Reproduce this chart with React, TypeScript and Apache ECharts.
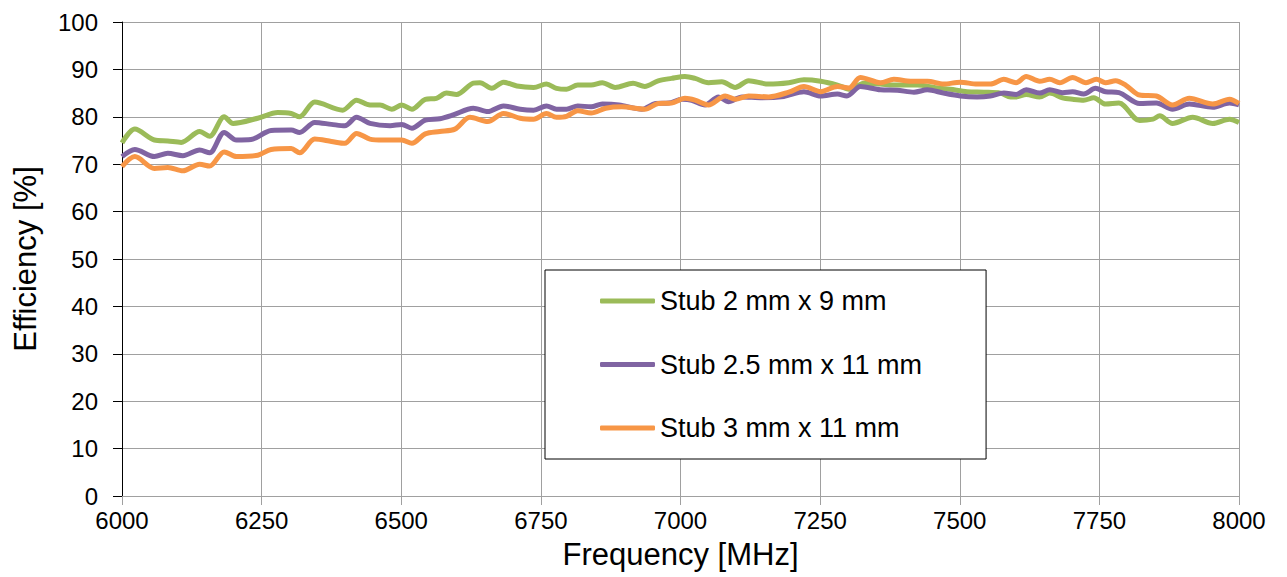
import React, { useEffect, useRef } from "react";
import * as echarts from "echarts";

const seriesNames = ["Stub 2 mm x 9 mm", "Stub 2.5 mm x 11 mm", "Stub 3 mm x 11 mm"];
const seriesColors = ["#9BBB59", "#8064A2", "#F79646"];

const xTicks = [6000, 6250, 6500, 6750, 7000, 7250, 7500, 7750, 8000];
const yTicks = [0, 10, 20, 30, 40, 50, 60, 70, 80, 90, 100];

// [frequency MHz, efficiency %]
const stub2x9: [number, number][] = [
  [6000, 74.5], [6023, 77.4], [6058, 75.1], [6082, 74.9], [6106, 74.6], [6139, 76.9], [6157, 75.9],
  [6183, 80.0], [6199, 78.6], [6243, 79.7], [6279, 80.9], [6303, 80.7], [6318, 80.0], [6345, 83.1],
  [6395, 81.4], [6420, 83.5], [6444, 82.5], [6462, 82.5], [6483, 81.6], [6501, 82.5], [6519, 81.6],
  [6543, 83.7], [6563, 83.9], [6581, 85.0], [6599, 84.7], [6629, 87.1], [6641, 87.2], [6662, 86.0],
  [6683, 87.3], [6707, 86.5], [6737, 86.2], [6760, 86.9], [6778, 86.0], [6796, 85.8], [6816, 86.7],
  [6840, 86.7], [6860, 87.2], [6883, 86.2], [6915, 87.1], [6936, 86.4], [6960, 87.6], [6984, 88.1],
  [7008, 88.5], [7026, 88.1], [7050, 87.2], [7074, 87.4], [7098, 86.2], [7122, 87.6], [7158, 86.9],
  [7194, 87.2], [7221, 87.8], [7251, 87.5], [7281, 86.7], [7304, 85.8], [7328, 87.1], [7358, 86.9],
  [7382, 86.7], [7424, 86.7], [7454, 86.2], [7483, 85.8], [7513, 85.3], [7543, 85.2], [7573, 85.0],
  [7591, 84.2], [7601, 84.2], [7619, 84.7], [7643, 84.2], [7661, 85.0], [7684, 84.0], [7702, 83.7],
  [7722, 83.5], [7740, 84.0], [7761, 82.7], [7785, 82.9], [7822, 79.2], [7846, 79.5], [7858, 80.2],
  [7881, 78.6], [7917, 79.9], [7953, 78.6], [7983, 79.5], [8000, 78.8],
];

const stub25x11: [number, number][] = [
  [6000, 71.6], [6023, 73.1], [6058, 71.6], [6082, 72.3], [6109, 71.8], [6139, 73.0], [6157, 72.4],
  [6183, 76.7], [6205, 75.1], [6231, 75.2], [6267, 77.1], [6303, 77.2], [6318, 76.7], [6345, 78.8],
  [6375, 78.4], [6399, 78.1], [6420, 79.9], [6444, 78.6], [6480, 78.1], [6501, 78.4], [6519, 77.6],
  [6543, 79.3], [6569, 79.6], [6593, 80.4], [6629, 81.8], [6655, 81.1], [6683, 82.3], [6713, 81.6],
  [6737, 81.4], [6760, 82.3], [6778, 81.6], [6796, 81.6], [6816, 82.3], [6840, 82.1], [6860, 82.7],
  [6890, 82.5], [6931, 81.6], [6955, 82.8], [6979, 82.9], [7003, 83.7], [7020, 83.5], [7044, 82.5],
  [7068, 84.2], [7086, 83.2], [7110, 84.2], [7146, 84.0], [7185, 84.3], [7221, 85.3], [7251, 84.4],
  [7281, 84.8], [7298, 84.4], [7322, 86.4], [7358, 85.7], [7388, 85.6], [7418, 85.2], [7442, 85.7],
  [7471, 85.0], [7501, 84.4], [7531, 84.2], [7555, 84.4], [7579, 85.0], [7601, 84.7], [7619, 85.7],
  [7643, 85.0], [7661, 85.7], [7684, 85.1], [7702, 85.3], [7722, 84.8], [7743, 86.0], [7761, 85.3],
  [7785, 85.1], [7822, 82.8], [7852, 82.9], [7881, 81.6], [7911, 82.7], [7953, 82.0], [7983, 82.9],
  [8000, 82.5],
];

const stub3x11: [number, number][] = [
  [6000, 69.5], [6023, 71.6], [6058, 69.1], [6082, 69.3], [6109, 68.6], [6139, 70.0], [6157, 69.6],
  [6183, 72.6], [6205, 71.6], [6243, 71.9], [6267, 73.1], [6303, 73.3], [6318, 72.4], [6345, 75.3],
  [6375, 74.8], [6399, 74.4], [6420, 76.5], [6444, 75.3], [6468, 75.1], [6501, 75.1], [6519, 74.4],
  [6543, 76.4], [6569, 76.9], [6596, 77.4], [6623, 79.9], [6655, 79.0], [6683, 80.7], [6713, 79.7],
  [6737, 79.5], [6760, 80.7], [6778, 79.9], [6796, 80.1], [6816, 81.3], [6840, 80.8], [6866, 81.8],
  [6895, 82.1], [6936, 81.6], [6960, 82.8], [6984, 82.9], [7008, 83.9], [7026, 83.5], [7050, 82.5],
  [7080, 84.4], [7098, 83.7], [7122, 84.4], [7158, 84.2], [7194, 85.2], [7221, 86.4], [7251, 85.3],
  [7281, 86.4], [7302, 86.1], [7322, 88.3], [7358, 87.2], [7382, 87.9], [7412, 87.5], [7442, 87.5],
  [7471, 86.9], [7501, 87.3], [7531, 86.9], [7555, 86.9], [7579, 87.9], [7601, 87.2], [7619, 88.5],
  [7643, 87.5], [7661, 87.9], [7679, 87.2], [7702, 88.3], [7726, 87.2], [7745, 87.9], [7761, 87.2],
  [7779, 87.6], [7797, 86.7], [7822, 84.6], [7852, 84.4], [7881, 82.5], [7911, 83.9], [7953, 82.7],
  [7983, 83.7], [8000, 82.8],
];

const seriesData = [stub2x9, stub25x11, stub3x11];

export default function App() {
  const ref = useRef<HTMLDivElement>(null);
  useEffect(() => {
    if (!ref.current) return;
    const chart = echarts.init(ref.current, null, { renderer: "svg" });
    const font = "Arial, 'Liberation Sans', sans-serif";
    chart.setOption({
      animation: false,
      backgroundColor: "#ffffff",
      grid: { left: 122, right: 48, top: 22, bottom: 81, containLabel: false },
      legend: {
        orient: "vertical",
        left: 545,
        top: 270,
        padding: [16, 64, 16, 55],
        borderColor: "#000000",
        borderWidth: 1,
        backgroundColor: "#ffffff",
        icon: "roundRect",
        itemWidth: 55,
        itemHeight: 5,
        itemGap: 33.5,
        data: seriesNames,
        textStyle: { fontFamily: font, fontSize: 27, color: "#000000", lineHeight: 30 },
      },
      xAxis: {
        type: "value",
        min: 6000,
        max: 8000,
        interval: 250,
        name: "Frequency [MHz]",
        nameLocation: "middle",
        nameGap: 43,
        nameTextStyle: { fontFamily: font, fontSize: 31, color: "#000000" },
        axisLine: { show: true, onZero: false, lineStyle: { color: "#A0A0A0", width: 1 } },
        axisTick: { show: true, length: 9, lineStyle: { color: "#A0A0A0" } },
        axisLabel: {
          fontFamily: font,
          fontSize: 24,
          color: "#000000",
          margin: 12,
          formatter: (v: number) => (xTicks.includes(v) ? String(v) : ""),
        },
        splitLine: { show: true, lineStyle: { color: "#A0A0A0", width: 1 } },
      },
      yAxis: {
        type: "value",
        min: 0,
        max: 100,
        interval: 10,
        name: "Efficiency [%]",
        nameLocation: "middle",
        nameGap: 81,
        nameRotate: 90,
        nameTextStyle: { fontFamily: font, fontSize: 31, color: "#000000" },
        axisLine: { show: true, lineStyle: { color: "#000000", width: 1 } },
        axisTick: { show: true, length: 9, lineStyle: { color: "#000000" } },
        axisLabel: {
          fontFamily: font,
          fontSize: 24,
          color: "#000000",
          margin: 24,
          formatter: (v: number) => (yTicks.includes(v) ? String(v) : ""),
        },
        splitLine: { show: true, lineStyle: { color: "#A0A0A0", width: 1 } },
      },
      series: seriesNames.map((name, i) => ({
        name,
        type: "line",
        data: seriesData[i],
        smooth: 0.3,
        showSymbol: false,
        symbol: "none",
        color: seriesColors[i],
        itemStyle: { color: seriesColors[i] },
        lineStyle: { color: seriesColors[i], width: 5 },
        z: 3 + i,
      })),
    });
    return () => chart.dispose();
  }, []);
  return (
    <div
      ref={ref}
      style={{ position: "fixed", left: 0, top: 0, width: 1287, height: 577, background: "#fff" }}
    />
  );
}
